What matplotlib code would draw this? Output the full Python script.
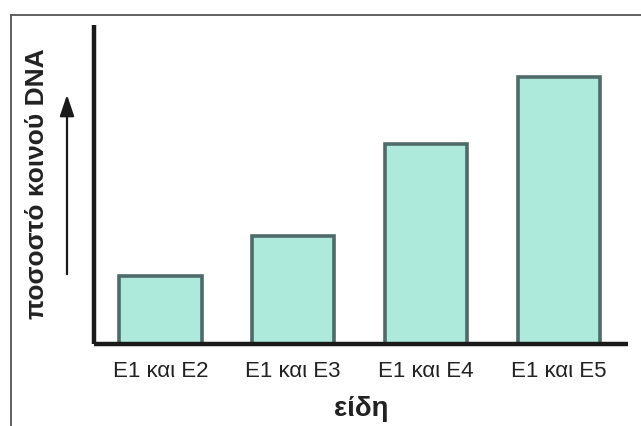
import matplotlib
matplotlib.use('Agg')
import matplotlib.pyplot as plt
from matplotlib.lines import Line2D
from matplotlib.patches import FancyArrowPatch

# data (arbitrary units)
pairs  = ['E1 και E2', 'E1 και E3', 'E1 και E4', 'E1 και E5']
shared = [68, 108, 200, 267]
y_top  = 319

plt.rcParams['font.family'] = ['Liberation Sans', 'DejaVu Sans']

fig = plt.figure(figsize=(6.41, 4.26), dpi=100)
ax = fig.add_axes([0.1466, 0.1925, 0.833, 0.7488])

x = range(len(pairs))
ax.bar(x, shared, width=0.62, color='#aeeadc', edgecolor='#4f6b69', linewidth=2.6)

ax.set_xlim(-0.5, 3.52)
ax.set_ylim(0, y_top)
ax.set_xticks(list(x))
ax.set_xticklabels(pairs, fontsize=16, color='#222222')
ax.set_yticks([])
ax.tick_params(axis='x', length=0, pad=12)

for side in ('top', 'right'):
    ax.spines[side].set_visible(False)
for side in ('left', 'bottom'):
    ax.spines[side].set_linewidth(3.2)
    ax.spines[side].set_color('#1a1a1a')
    ax.spines[side].set_capstyle('butt')

ax.set_xlabel('είδη', fontsize=20, fontweight='bold', color='#222222', labelpad=10)
fig.text(0.057, 0.569, 'ποσοστό κοινού DNA', rotation=90, fontsize=19,
         fontweight='bold', color='#222222', ha='center', va='center')

# upward arrow next to the y label
fig.add_artist(FancyArrowPatch(
    (67 / 641, 1 - 277 / 426), (67 / 641, 1 - 92 / 426),
    transform=fig.transFigure, arrowstyle='-|>,head_length=3.7,head_width=1.25',
    mutation_scale=3.5, color='#1a1a1a', linewidth=1.6))

# frame lines from the original picture (left and top only)
fig.add_artist(Line2D([11 / 641, 11 / 641], [0, 1 - 15 / 426],
                      transform=fig.transFigure, color='#555555', linewidth=1.3))
fig.add_artist(Line2D([11 / 641, 1], [1 - 15 / 426, 1 - 15 / 426],
                      transform=fig.transFigure, color='#555555', linewidth=1.3))

fig.savefig('out.png', dpi=100)
